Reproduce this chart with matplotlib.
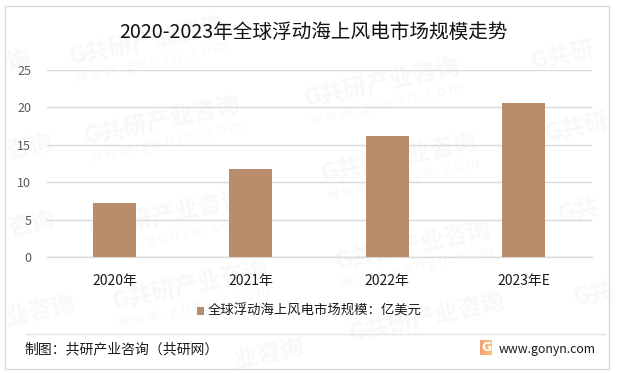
#!/usr/bin/env python3
"""Global floating offshore wind market size, 2020-2023E."""

import numpy as np
import matplotlib.pyplot as plt
from matplotlib.colors import LinearSegmentedColormap
from matplotlib.patches import Rectangle

plt.rcParams['font.family'] = ['Noto Sans CJK SC', 'DejaVu Sans']

# Data
categories = ['2020年', '2021年', '2022年', '2023年E']
values = [7.26, 11.76, 16.2, 20.6]
y_ticks = [0, 5, 10, 15, 20, 25]
series_name = '全球浮动海上风电市场规模：亿美元'
title = '2020-2023年全球浮动海上风电市场规模走势'
source = '制图：共研产业咨询（共研网）'
site = 'www.gonyn.com'

W, H = 618, 373
BAR = '#B98D6B'
GRID = '#DADADA'
MARK = '#F8F8F8'

fig = plt.figure(figsize=(W / 100, H / 100), dpi=100, facecolor='white')


def px(x, y):
    """Pixel position (from top left) to figure fraction."""
    return x / W, 1 - y / H


# Outer frame
fig.add_artist(Rectangle((4.5 / W, 1 - 368.5 / H), 604.5 / W, 363 / H,
                         transform=fig.transFigure, fill=False,
                         edgecolor='#D9D9D9', linewidth=1))

# Watermarks, shortened where the reference runs them into the frame
marks = [('G共研产业咨询', 70, 58), ('G共研产业咨询', 85, 138), ('G共研产业咨询', 90, 232),
         ('G共研产业咨询', 113, 303), ('G共研产业咨询', 305, 100), ('G共研产业咨询', 322, 175),
         ('G共研产业咨询', 336, 263), ('G共研产业咨询', 350, 335), ('业咨询', 235, 361),
         ('G共研', 532, 63), ('G共研', 546, 135), ('G共', 559, 216), ('G共', 574, 299),
         ('询', 6, 63), ('咨询', 6, 152), ('咨询', 8, 229), ('业咨询', 6, 318)]
for text, mx, my in marks:
    x, y = px(mx, my)
    fig.text(x, y, text, fontsize=17, fontweight='bold', color=MARK, rotation=12,
             ha='left', va='center', rotation_mode='anchor', zorder=-1)
    if text.startswith('G') and len(text) > 4 and my < 320:
        x, y = px(mx + 6, my + 20)
        fig.text(x, y, 'w w w . g o n y n . c o m', fontsize=10.5, color=MARK,
                 rotation=12, ha='left', va='center', rotation_mode='anchor', zorder=-1)

# Plot area
ax = fig.add_axes([46.5 / W, 1 - 257 / H, 545 / W, 187 / H])
ax.patch.set_alpha(0)
ax.bar(categories, values, width=0.315, color=BAR, zorder=3)
ax.set_xlim(-0.5, 3.5)
ax.set_ylim(0, 25)
ax.set_yticks(y_ticks)
ax.grid(axis='y', color=GRID, linewidth=1, zorder=1)
ax.set_axisbelow(True)
for name in ['top', 'right', 'left']:
    ax.spines[name].set_visible(False)
ax.spines['bottom'].set_color(GRID)
ax.spines['bottom'].set_linewidth(1)
ax.spines['bottom'].set_zorder(2)
ax.tick_params(axis='both', length=0)
ax.tick_params(axis='x', labelsize=10, labelcolor='#1A1A1A', pad=12)
ax.tick_params(axis='y', labelsize=9, labelcolor='#595959', pad=11)

# Title
x, y = px(313.5, 32)
fig.text(x, y, title, fontsize=14.15, color='#111111', ha='center', va='center')

# Legend
fig.add_artist(Rectangle(px(197, 315), 7 / W, 8 / H, transform=fig.transFigure,
                         facecolor=BAR, edgecolor='none'))
x, y = px(207.5, 311)
fig.text(x, y, series_name, fontsize=9.6, color='#1A1A1A', ha='left', va='center')

# Footer
fig.add_artist(plt.Line2D([26 / W, 605 / W], [1 - 333.5 / H] * 2,
                          transform=fig.transFigure, color='#E4E4E4', linewidth=1))
x, y = px(24, 349)
fig.text(x, y, source, fontsize=10, color='#1A1A1A', ha='left', va='center')
x, y = px(498.5, 349)
fig.text(x, y, site, fontsize=8.9, color='#1A1A1A', ha='left', va='center')

# Logo
logo_cmap = LinearSegmentedColormap.from_list('logo', ['#F2A07B', '#F8C56F'])
logo = fig.add_axes([480 / W, 1 - 355 / H, 12 / W, 15 / H])
logo.imshow(np.linspace(0, 1, 12).reshape(1, -1), cmap=logo_cmap, aspect='auto')
logo.axis('off')
x, y = px(486, 347.5)
fig.text(x, y, 'G', fontsize=9, fontweight='bold', color='white', ha='center',
         va='center', family='DejaVu Sans')

fig.savefig('out.png', dpi=100)
